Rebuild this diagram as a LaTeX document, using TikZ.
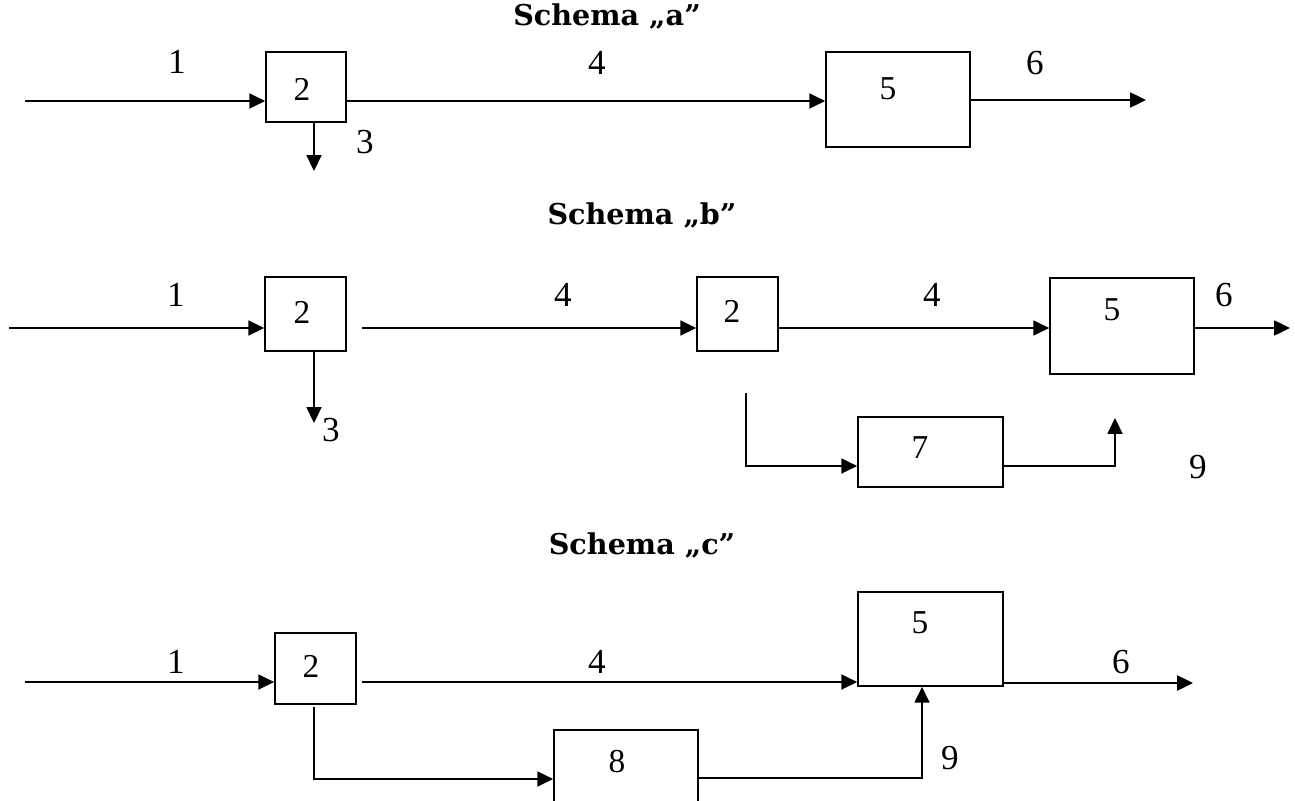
\documentclass[tikz,border=0pt]{standalone}
\usepackage{fontspec}
\setmainfont{Liberation Serif}
\newfontfamily\labfont{Liberation Serif}
\newfontfamily\titlefont{DejaVu Serif}
\usetikzlibrary{arrows.meta,fit}
\tikzset{
  tip/.style={-{Triangle[length=9pt,width=8.5pt]}},
  flow/.style={line width=1.15pt, tip},
  side/.style={line width=0.95pt, tip},
  box/.style={draw, line width=0.95pt, inner sep=0pt},
  lab/.style={inner sep=0pt, font=\labfont\fontsize{20}{22}\selectfont},
  boxnum/.style={inner sep=0pt, font=\labfont\fontsize{19}{21}\selectfont},
  title/.style={inner sep=0pt, anchor=base, font=\titlefont\bfseries\fontsize{16.3}{18}\selectfont},
}
\begin{document}
\begin{tikzpicture}[x=0.02cm,y=-0.02cm]
\useasboundingbox (0,0) rectangle (1295,801);
\clip (0,0) rectangle (1295,801);

% ---------------- Schema a ----------------
\node[title] (ta) at (607,26) {Schema „a”};
\node[box, fit={(266,52) (346,122)}] (a2) {};
\node[box, fit={(826,52) (970,147)}] (a5) {};
\node[boxnum] (a2t) at (302,89) {2};
\node[boxnum] (a5t) at (888,89) {5};
\coordinate (a1s) at (25,101);
\coordinate (a3e) at (314,171);
\coordinate (a6e) at (1146,100);
\draw[flow] (a1s) -- (a1s -| a2.west);
\draw[flow] (a2.east |- a1s) -- (a5.west |- a1s);
\draw[side] (a2.south -| a3e) -- (a3e);
\draw[flow] (a5.east |- a6e) -- (a6e);
\node[lab] (a1l) at (177,62) {1};
\node[lab] (a3l) at (365,142) {3};
\node[lab] (a4l) at (597,63) {4};
\node[lab] (a6l) at (1035,63) {6};

% ---------------- Schema b ----------------
\node[title] (tb) at (642,224) {Schema „b”};
\node[box, fit={(265,277) (346,351)}] (b2) {};
\node[box, fit={(697,277) (778,351)}] (b2b) {};
\node[box, fit={(1050,278) (1194,374)}] (b5) {};
\node[box, fit={(858,417) (1003,487)}] (b7) {};
\node[boxnum] (b2t) at (302,312) {2};
\node[boxnum] (b2bt) at (732,311) {2};
\node[boxnum] (b5t) at (1112,310) {5};
\node[boxnum] (b7t) at (920,448) {7};
\coordinate (b1s) at (9,328);
\coordinate (b3e) at (314,423);
\coordinate (b4s) at (362,328);
\coordinate (b6e) at (1290,328);
\coordinate (b7s) at (746,393);
\coordinate (b7k) at (746,466);
\coordinate (b9e) at (1115,418);
\draw[flow] (b1s) -- (b1s -| b2.west);
\draw[side] (b2.south -| b3e) -- (b3e);
\draw[flow] (b4s) -- (b4s -| b2b.west);
\draw[flow] (b2b.east |- b4s) -- (b5.west |- b4s);
\draw[flow] (b5.east |- b6e) -- (b6e);
\draw[side] (b7s) -- (b7k) -- (b7k -| b7.west);
\draw[side] (b7.east |- b7k) -| (b9e);
\node[lab] (b1l) at (176,295) {1};
\node[lab] (b3l) at (331,430) {3};
\node[lab] (b4l) at (563,295) {4};
\node[lab] (b4bl) at (932,295) {4};
\node[lab] (b6l) at (1224,295) {6};
\node[lab] (b9l) at (1198,467) {9};

% ---------------- Schema c ----------------
\node[title] (tc) at (642,554) {Schema „c”};
\node[box, fit={(275,633) (356,704)}] (c2) {};
\node[box, fit={(858,592) (1003,686)}] (c5) {};
\node[box, fit={(554,730) (698,840)}] (c8) {};
\node[boxnum] (c2t) at (311,666) {2};
\node[boxnum] (c5t) at (920,623) {5};
\node[boxnum] (c8t) at (617,762) {8};
\coordinate (c1s) at (25,682);
\coordinate (c4s) at (362,682);
\coordinate (c6e) at (1193,683);
\coordinate (c8s) at (314,707);
\coordinate (c8k) at (314,779);
\coordinate (c9k) at (922,778);
\draw[flow] (c1s) -- (c1s -| c2.west);
\draw[flow] (c4s) -- (c4s -| c5.west);
\draw[flow] (c5.east |- c6e) -- (c6e);
\draw[side] (c8s) -- (c8k) -- (c8k -| c8.west);
\draw[side] (c8.east |- c9k) -- (c9k) -- (c9k |- c5.south);
\node[lab] (c1l) at (176,662) {1};
\node[lab] (c4l) at (597,662) {4};
\node[lab] (c6l) at (1121,662) {6};
\node[lab] (c9l) at (950,758) {9};
\end{tikzpicture}
\end{document}
